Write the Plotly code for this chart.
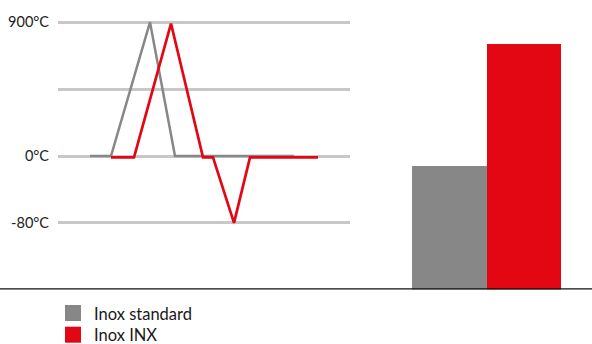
import plotly.graph_objects as go

W, H = 592, 344


def py(p):
    # pixel row from the top -> paper fraction
    return 1 - p / H


# schematic temperature levels on the left chart (axis units: -80°C=-1, 0°C=0, 900°C=2)
level_ticks = [-1, 0, 1, 2]
level_labels = ["-80°C", "0°C", "", "900°C"]

# time (arbitrary units) / level for each cycle
std_time = [3.2, 5.3, 9.2, 11.7, 23.6]
std_level = [0, 0, 2.0, 0, 0]
inx_time = [5.3, 7.6, 11.3, 14.5, 15.5, 17.6, 19.2, 26.0]
inx_level = [-0.02, -0.02, 1.98, -0.02, -0.02, -1.0, -0.02, -0.02]

# right chart: relative values
bar_names = ["Inox standard", "Inox INX"]
bar_values = [50.3, 100]

GREY = "#878787"
RED = "#e30613"
colors = [GREY, RED]

fig = go.Figure()

fig.add_trace(go.Scatter(x=std_time, y=std_level, mode="lines",
                         line=dict(color=GREY, width=2.5), showlegend=False,
                         xaxis="x", yaxis="y"))
fig.add_trace(go.Scatter(x=inx_time, y=inx_level, mode="lines",
                         line=dict(color=RED, width=2.7), showlegend=False,
                         xaxis="x", yaxis="y"))

fig.add_trace(go.Bar(x=bar_names, y=bar_values, marker=dict(color=colors, line_width=0),
                     showlegend=False, xaxis="x2", yaxis="y2"))

# legend drawn by hand: square + label under the chart
shapes = [dict(type="line", xref="paper", yref="y2", x0=0, x1=1, y0=0, y1=0,
               line=dict(color="#111111", width=2.5))]
annotations = []
for i, (name, col) in enumerate(zip(bar_names, colors)):
    top = 305 + i * 21.7
    shapes.append(dict(type="rect", xref="paper", yref="paper",
                       x0=65 / W, x1=81 / W, y0=py(top + 16), y1=py(top),
                       fillcolor=col, line_width=0))
    annotations.append(dict(text=name, xref="paper", yref="paper",
                            x=92 / W, y=py(top + 8.5), xanchor="left", yanchor="middle",
                            showarrow=False, font=dict(size=16.5, color="#1a1a1a")))

px_unit = 66.9   # pixels between gridlines
zero_px = 156    # row of the 0°C line
base_px = 289.5  # row of the bars' baseline
fig.update_layout(
    width=W, height=H, autosize=False,
    margin=dict(l=0, r=0, t=0, b=0),
    paper_bgcolor="white", plot_bgcolor="rgba(0,0,0,0)",
    font=dict(family="Lato, Open Sans, sans-serif", color="#222222", size=14),
    xaxis=dict(domain=[58 / W, 350 / W], range=[0, 29.2], visible=False),
    yaxis=dict(domain=[0, 1], range=[(zero_px - H) / px_unit, zero_px / px_unit],
               tickmode="array", tickvals=level_ticks, ticktext=level_labels,
               showgrid=True, gridcolor="#c8c8c8", gridwidth=2.5, zeroline=False,
               showline=False, ticks="", ticklabelstandoff=8,
               tickfont=dict(size=14.5, color="#222222")),
    xaxis2=dict(domain=[412 / W, 561 / W], anchor="y2", visible=False),
    yaxis2=dict(domain=[1 - base_px / H, 1], range=[0, 100 * 289.5 / 245.5],
                anchor="x2", visible=False),
    bargap=0,
    showlegend=False,
    shapes=shapes,
    annotations=annotations,
)

# drop the default body margin so the figure sits at the window's corner
fig.write_html("out.html", config={"displayModeBar": False},
               post_script="document.body.style.margin='0';")
